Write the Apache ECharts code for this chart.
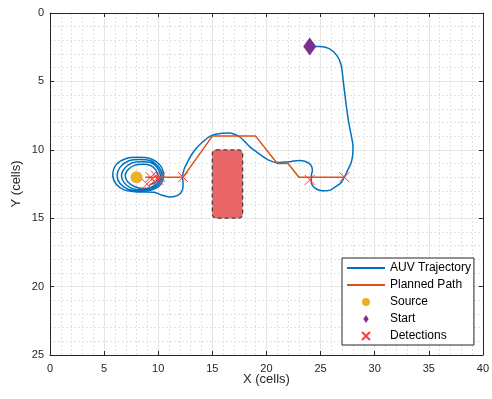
<!DOCTYPE html>
<html>
<head>
<meta charset="utf-8">
<script src="https://cdn.jsdelivr.net/npm/echarts@6/dist/echarts.min.js"></script>
<style>
  html, body { margin: 0; padding: 0; background: #fff; }
  #chart { width: 492px; height: 399px; }
</style>
</head>
<body>
<div id="chart"></div>
<script>
// AUV trajectory, from the start marker to the loops round the source
const trajectory = [
  [24.0, 2.45], [24.9, 2.45], [25.8, 2.6], [26.5, 3.1], [26.9, 3.8], [27.1, 5.0],
  [27.35, 6.6], [27.6, 8.0], [27.85, 9.0], [28.0, 9.8], [27.95, 10.5], [27.8, 11.0],
  [27.5, 11.5], [27.2, 12.0], [26.9, 12.4], [26.4, 12.7], [25.9, 12.95], [25.4, 13.0],
  [24.9, 12.95], [24.5, 12.8], [24.15, 12.4], [24.15, 11.9], [24.25, 11.5], [24.1, 11.1],
  [23.6, 10.85], [23.0, 10.78], [22.3, 10.85], [21.6, 10.9], [20.9, 10.93], [20.2, 10.75],
  [19.6, 10.45], [19.0, 10.1], [18.5, 9.8], [18.0, 9.4], [17.6, 9.1], [17.1, 8.88],
  [16.5, 8.78], [15.9, 8.79], [15.3, 8.87], [14.7, 9.05], [14.0, 9.5], [13.5, 9.9],
  [13.05, 10.4], [12.7, 10.9], [12.4, 11.4], [12.25, 12.0], [12.3, 12.5], [12.25, 12.9],
  [11.95, 13.25], [11.5, 13.42], [11.0, 13.45], [10.3, 13.3], [9.6, 13.1],
  // loops round the source
  [8.1, 13.08], [6.9, 12.95], [6.1, 12.5], [5.8, 11.85], [6.1, 11.1], [7.0, 10.65],
  [8.1, 10.55], [9.3, 10.65], [10.15, 11.1], [10.5, 11.85], [10.2, 12.55], [9.3, 12.95],
  [8.25, 13.0], [7.2, 12.88], [6.45, 12.45], [6.2, 11.87], [6.5, 11.25], [7.3, 10.8],
  [8.3, 10.7], [9.3, 10.8], [10.0, 11.2], [10.35, 11.85], [10.05, 12.5], [9.3, 12.85],
  [8.4, 12.92], [7.5, 12.8], [6.85, 12.4], [6.6, 11.9], [6.9, 11.35], [7.6, 10.95],
  [8.5, 10.87], [9.35, 10.95], [9.9, 11.3], [10.2, 11.9], [9.9, 12.45], [9.3, 12.75],
  [8.6, 12.82], [7.85, 12.7], [7.2, 12.35], [6.95, 11.9], [7.2, 11.45], [7.85, 11.12],
  [8.6, 11.06], [9.3, 11.15], [9.75, 11.45], [10.0, 11.95], [9.75, 12.35], [9.2, 12.55]
];

const plannedPath = [
  [8.8, 12.0], [12.3, 12.0], [15.0, 9.0], [19.0, 9.0], [21.0, 11.0],
  [22.0, 11.0], [23.0, 12.0], [27.2, 12.0]
];

const sourcePos = [[8.0, 12.0]];
const startPos = [[24.0, 2.45]];

const detections = [
  [8.95, 12.5], [9.3, 12.0], [9.6, 12.3], [9.8, 11.9], [10.0, 12.2],
  [10.2, 12.0], [12.3, 12.0], [24.0, 12.2], [27.2, 12.0]
];

// obstacle: x0, y0, x1, y1
const obstacle = [[15.0, 10.0, 17.8, 15.0]];

const xTicks = { min: 0, max: 40, step: 5 };
const yTicks = { min: 0, max: 25, step: 5 };

const ink = '#262626';
const chart = echarts.init(document.getElementById('chart'));

const frameAxis = (extra) => Object.assign({
  type: 'value',
  axisLine: { show: true, onZero: false, lineStyle: { color: ink, width: 1 } },
  axisTick: { show: true, inside: true, length: 4, lineStyle: { color: ink } },
  axisLabel: { show: false },
  splitLine: { show: false }
}, extra);

const gridLines = {
  splitLine: { show: true, lineStyle: { color: '#e6e6e6', width: 1 } },
  minorTick: { show: true, splitNumber: 5, length: 0 },
  minorSplitLine: { show: true, lineStyle: { color: '#e2e2e2', width: 1, type: [2, 2] } }
};

chart.setOption({
  animation: false,
  backgroundColor: '#fff',
  textStyle: { fontFamily: 'Liberation Sans, Arial, sans-serif' },
  grid: { left: 50, right: 8, top: 13, bottom: 44 },
  legend: {
    left: 342,
    top: 258,
    orient: 'vertical',
    data: [
      { name: 'AUV Trajectory', itemStyle: { opacity: 0 } },
      { name: 'Planned Path', itemStyle: { opacity: 0 } },
      'Source',
      { name: 'Start', icon: 'path://M3,0L6,4.5L3,9L0,4.5Z' },
      'Detections'
    ],
    itemWidth: 38,
    itemHeight: 8,
    itemGap: 5,
    symbolKeepAspect: true,
    padding: [4, 3, 3, 4],
    backgroundColor: '#fff',
    borderColor: ink,
    borderWidth: 1,
    borderRadius: 0,
    textStyle: { color: '#000', fontSize: 12 }
  },
  xAxis: [
    frameAxis(Object.assign({
      min: xTicks.min, max: xTicks.max, interval: xTicks.step, position: 'bottom',
      name: 'X (cells)', nameLocation: 'middle', nameGap: 18, nameMoveOverlap: false,
      nameTextStyle: { color: ink, fontSize: 13 },
      axisLabel: { show: true, color: ink, fontSize: 11, margin: 8 }
    }, gridLines)),
    frameAxis({ min: xTicks.min, max: xTicks.max, interval: xTicks.step, position: 'top' })
  ],
  yAxis: [
    frameAxis(Object.assign({
      min: yTicks.min, max: yTicks.max, interval: yTicks.step, inverse: true, position: 'left',
      name: 'Y (cells)', nameLocation: 'middle', nameGap: 27, nameMoveOverlap: false,
      nameTextStyle: { color: ink, fontSize: 13 },
      axisLabel: { show: true, color: ink, fontSize: 11, margin: 6 }
    }, gridLines)),
    frameAxis({ min: yTicks.min, max: yTicks.max, interval: yTicks.step, inverse: true, position: 'right' })
  ],
  series: [
    {
      name: 'Obstacle',
      type: 'custom',
      data: obstacle,
      z: 1,
      renderItem: (params, api) => {
        const p0 = api.coord([api.value(0), api.value(1)]);
        const p1 = api.coord([api.value(2), api.value(3)]);
        return {
          type: 'rect',
          shape: {
            x: Math.min(p0[0], p1[0]), y: Math.min(p0[1], p1[1]),
            width: Math.abs(p1[0] - p0[0]), height: Math.abs(p1[1] - p0[1]), r: 4
          },
          style: { fill: '#ea6767', stroke: '#404040', lineWidth: 1.3, lineDash: [4, 3] }
        };
      }
    },
    {
      name: 'AUV Trajectory',
      type: 'line',
      data: trajectory,
      smooth: 0.3,
      symbol: 'none',
      z: 3,
      lineStyle: { color: '#0072BD', width: 1.5 },
      itemStyle: { color: '#0072BD' }
    },
    {
      name: 'Planned Path',
      type: 'line',
      data: plannedPath,
      symbol: 'none',
      z: 4,
      lineStyle: { color: '#D95319', width: 1.5 },
      itemStyle: { color: '#D95319' }
    },
    {
      name: 'Source',
      type: 'scatter',
      data: sourcePos,
      symbol: 'circle',
      symbolSize: 12,
      z: 5,
      itemStyle: { color: '#EDB120', opacity: 1 }
    },
    {
      name: 'Start',
      type: 'scatter',
      data: startPos,
      symbol: 'diamond',
      symbolSize: [13, 18],
      z: 5,
      itemStyle: { color: '#7E2F8E', opacity: 1 }
    },
    {
      name: 'Detections',
      type: 'scatter',
      data: detections,
      symbol: 'path://M0,0L10,10M10,0L0,10',
      symbolSize: 10,
      z: 6,
      itemStyle: { color: 'rgba(0,0,0,0)', borderColor: '#ff3b3b', borderWidth: 1, opacity: 1 }
    }
  ]
});
</script>
</body>
</html>
